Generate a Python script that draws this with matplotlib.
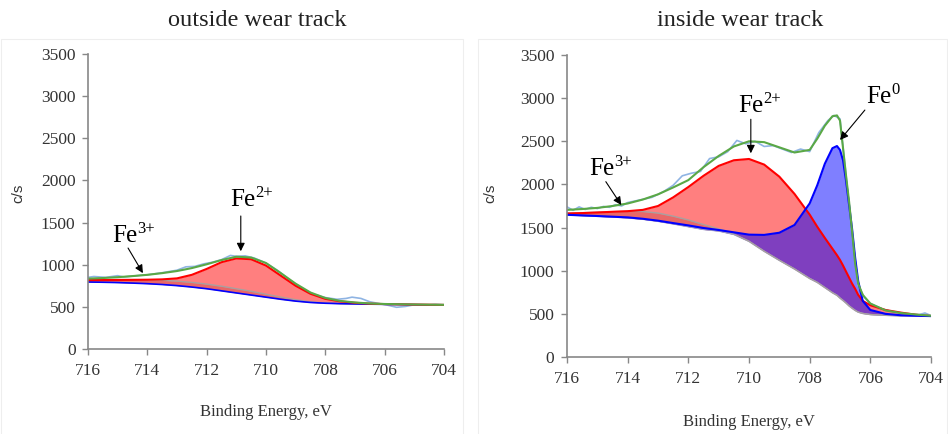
import matplotlib
matplotlib.use('Agg')
import matplotlib.pyplot as plt
from matplotlib.patches import Rectangle

plt.rcParams['font.family'] = ['Liberation Serif', 'DejaVu Serif']

# ---- outside wear track ----
e_out = [716, 715.5, 715, 714.5, 714, 713.5, 713, 712.5, 712, 711.5, 711, 710.5,
         710, 709.5, 709, 708.5, 708, 707.5, 707, 706.5, 706, 705, 704]
bg_out = [795, 792, 788, 782, 775, 765, 752, 735, 715, 690, 665, 640,
          615, 590, 568, 552, 543, 538, 535, 532, 530, 526, 523]
fe3_out = [822, 823, 824, 824, 822, 815, 805, 790, 770, 745, 715, 685,
           650, 615, 585, 560, 545, 538, 535, 532, 530, 526, 523]
fe2_out = [818, 818, 819, 820, 822, 826, 838, 880, 950, 1030, 1075, 1065,
           990, 870, 750, 655, 595, 565, 548, 538, 533, 527, 523]
env_out = [835, 842, 852, 865, 880, 900, 925, 960, 1005, 1055, 1095, 1085,
           1020, 900, 775, 670, 605, 570, 552, 540, 534, 528, 524]

raw_e_out = [716, 715.8, 715.6, 715.4, 715.2, 715, 714.8, 714.5, 714.2, 714, 713.5, 713,
             712.7, 712.4, 712.1, 711.8, 711.5, 711.2, 711, 710.7, 710.4, 710, 709.6,
             709.2, 708.8, 708.4, 708, 707.6, 707.3, 707.1, 706.8, 706.5, 706.2, 705.9,
             705.6, 705.3, 705, 704.6, 704.3, 704]
raw_out = [850, 860, 855, 850, 860, 870, 855, 865, 875, 880, 905, 935,
           975, 980, 1010, 1030, 1060, 1110, 1100, 1105, 1080, 1020, 930,
           820, 720, 650, 610, 590, 600, 615, 600, 560, 540, 520,
           495, 505, 525, 520, 530, 525]

# ---- inside wear track ----
e_in = [716, 715.5, 715, 714.5, 714, 713.5, 713, 712.5, 712, 711.5, 711, 710.5,
        710, 709.5, 709, 708.5, 708, 707.75, 707.5, 707.25, 707.1, 707.0, 706.9,
        706.8, 706.7, 706.6, 706.5, 706.4, 706.25, 706.0, 705.5, 705, 704.5, 704]
bg_in = [1645, 1638, 1630, 1622, 1612, 1596, 1572, 1542, 1510, 1478, 1460, 1420,
         1340, 1225, 1120, 1020, 910, 865, 805, 745, 715, 683, 655,
         625, 592, 565, 540, 520, 505, 492, 483, 478, 476, 474]
fe3_in = [1668, 1672, 1678, 1684, 1688, 1686, 1668, 1632, 1588, 1535, 1485, 1425,
          1342, 1226, 1121, 1020, 910, 865, 805, 745, 715, 683, 655,
          625, 592, 565, 540, 520, 505, 492, 483, 478, 476, 474]
fe2_in = [1663, 1668, 1675, 1683, 1690, 1705, 1750, 1850, 1970, 2100, 2215, 2280,
          2295, 2230, 2090, 1890, 1650, 1510, 1380, 1255, 1180, 1125, 1060,
          990, 920, 850, 790, 720, 650, 600, 545, 515, 490, 475]
fe0_in = [1648, 1641, 1634, 1626, 1618, 1602, 1580, 1552, 1525, 1495, 1472, 1445,
          1418, 1415, 1440, 1530, 1780, 1990, 2240, 2420, 2445, 2400, 2280,
          2040, 1760, 1480, 1150, 880, 650, 545, 500, 484, 478, 474]
env_in = [1705, 1715, 1728, 1750, 1779, 1825, 1885, 1965, 2050, 2200, 2330, 2440,
          2500, 2490, 2430, 2370, 2400, 2530, 2680, 2790, 2800, 2740, 2420,
          2100, 1800, 1450, 1080, 850, 720, 620, 540, 510, 492, 478]

raw_e_in = [716, 715.8, 715.6, 715.4, 715.2, 715, 714.8, 714.6, 714.4, 714.2, 714, 713.6,
            713.2, 712.8, 712.5, 712.2, 711.9, 711.6, 711.3, 711, 710.7, 710.4, 710.1,
            709.8, 709.5, 709.2, 708.9, 708.6, 708.3, 708, 707.7, 707.4, 707.2, 707.0,
            706.8, 706.6, 706.4, 706.2, 706, 705.6, 705.2, 704.8, 704.4, 704.2, 704]
raw_in = [1740, 1700, 1740, 1710, 1735, 1720, 1745, 1735, 1765, 1750, 1790, 1820,
          1850, 1920, 1990, 2100, 2130, 2150, 2300, 2320, 2380, 2510, 2470,
          2500, 2440, 2450, 2410, 2370, 2410, 2380, 2600, 2740, 2800, 2760,
          2100, 1420, 830, 690, 620, 555, 520, 500, 490, 510, 480]

W, H = 948, 434
fig = plt.figure(figsize=(W / 100, H / 100), dpi=100)

# faint panel frames
for x0, x1 in [(1, 463), (478, 947)]:
    fig.patches.append(Rectangle((x0 / W, -0.01), (x1 - x0) / W, 1 - 39 / H + 0.01,
                                 transform=fig.transFigure, fill=False,
                                 edgecolor='#eeeeee', lw=0.8))

ax1 = fig.add_axes([88 / W, 1 - 349 / H, (444 - 88) / W, (349 - 54) / H])
ax2 = fig.add_axes([567 / W, 1 - 357 / H, (931 - 567) / W, (357 - 55) / H])

red, blue, green, grey, rawc = '#ff0000', '#0000ff', '#5aa846', '#b4b4b4', '#8fb4e3'

# outside
ax1.plot(raw_e_out, raw_out, color=rawc, lw=1.2)
ax1.fill_between(e_out, bg_out, fe3_out, color=grey, alpha=0.6, lw=0)
ax1.fill_between(e_out, bg_out, fe2_out, color=red, alpha=0.5, lw=0)
ax1.plot(e_out, fe3_out, color='#a8a0a0', lw=1)
ax1.plot(e_out, bg_out, color=blue, lw=1.2)
ax1.plot(e_out, fe2_out, color=red, lw=1.5)
ax1.plot(e_out, env_out, color=green, lw=1.5)

# inside
ax2.plot(raw_e_in, raw_in, color=rawc, lw=1.2)
ax2.fill_between(e_in, bg_in, fe3_in, color=grey, alpha=0.6, lw=0)
ax2.fill_between(e_in, bg_in, fe2_in, color=red, alpha=0.5, lw=0)
ax2.fill_between(e_in, bg_in, fe0_in, color=blue, alpha=0.5, lw=0)
ax2.plot(e_in, bg_in, color='#a0a0c8', lw=1)
ax2.plot(e_in, fe3_in, color='#a8a0a0', lw=1)
ax2.plot(e_in, fe2_in, color=red, lw=1.5)
ax2.plot(e_in, fe0_in, color=blue, lw=1.5)
ax2.plot(e_in, env_in, color=green, lw=1.5)

for ax in (ax1, ax2):
    ax.set_xlim(716, 704)
    ax.set_ylim(0, 3500)
    ax.set_xticks([716, 714, 712, 710, 708, 706, 704])
    ax.set_yticks(range(0, 3501, 500))
    for s in ('top', 'right'):
        ax.spines[s].set_visible(False)
    for s in ('left', 'bottom'):
        ax.spines[s].set_color('#888888')
        ax.spines[s].set_linewidth(1.2)
    ax.tick_params(direction='out', length=4, width=1, color='#888888',
                   labelsize=12.5, labelcolor='#333333')
    ax.tick_params(axis='x', pad=6)
    ax.tick_params(axis='y', pad=5)

arr = dict(arrowstyle='-|>', color='black', lw=0.8, mutation_scale=12, shrinkA=0, shrinkB=0)


def fe_label(ax, x, y, sup):
    # "Fe" with a raised charge, placed by its left edge and baseline
    ax.text(x, y, 'Fe', fontsize=18, ha='left', va='baseline', color='black')
    ax.annotate(sup, xy=(x, y), xytext=(18, 6.5), textcoords='offset points',
                fontsize=12, ha='left', va='baseline', color='black')


fe_label(ax1, 715.19, 1273, '3+')
ax1.annotate('', xy=(714.15, 900), xytext=(714.65, 1198), arrowprops=arr)
fe_label(ax1, 711.21, 1697, '2+')
ax1.annotate('', xy=(710.85, 1160), xytext=(710.85, 1578), arrowprops=arr)

fe_label(ax2, 715.27, 2109, '3+')
ax2.annotate('', xy=(714.21, 1761), xytext=(714.72, 2032), arrowprops=arr)
fe_label(ax2, 710.36, 2843, '2+')
ax2.annotate('', xy=(709.94, 2361), xytext=(709.94, 2755), arrowprops=arr)
fe_label(ax2, 706.13, 2940, '0')
ax2.annotate('', xy=(707.0, 2515), xytext=(706.18, 2862), arrowprops=arr)

fig.text(257 / W, 1 - 20 / H, 'outside wear track', fontsize=17.5, ha='center', va='center', color='#222222')
fig.text(740 / W, 1 - 20 / H, 'inside wear track', fontsize=17.5, ha='center', va='center', color='#222222')
fig.text(266 / W, 1 - 412 / H, 'Binding Energy, eV', fontsize=12, ha='center', va='center', color='#333333')
fig.text(749 / W, 1 - 422 / H, 'Binding Energy, eV', fontsize=12, ha='center', va='center', color='#333333')
fig.text(18 / W, 1 - 193 / H, 'c/s', fontsize=11, rotation=90, ha='center', va='center',
         color='#333333', family=['Liberation Sans', 'DejaVu Sans'])
fig.text(490 / W, 1 - 193 / H, 'c/s', fontsize=11, rotation=90, ha='center', va='center',
         color='#333333', family=['Liberation Sans', 'DejaVu Sans'])

fig.savefig('out.png', dpi=100)
